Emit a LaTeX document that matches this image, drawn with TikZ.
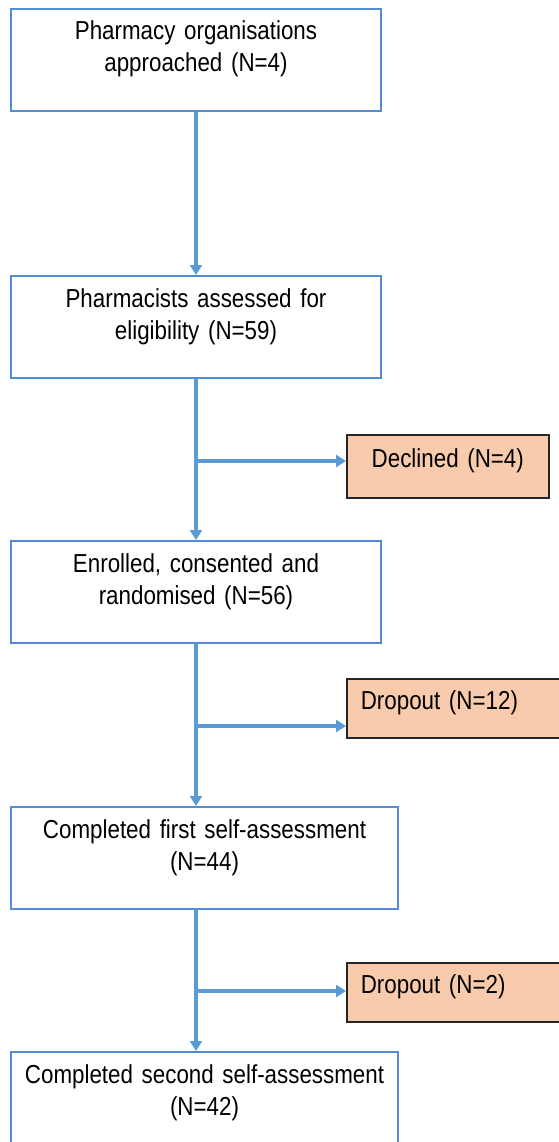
\documentclass[tikz,border=0pt]{standalone}
\usepackage{fontspec}
\setmainfont[FakeStretch=0.86]{Liberation Sans}
\usepackage{tikz}
\usetikzlibrary{arrows.meta,positioning}
\definecolor{boxblue}{RGB}{84,141,212}
\definecolor{flowblue}{RGB}{91,155,213}
\definecolor{exitfill}{RGB}{248,203,173}
\definecolor{exitline}{RGB}{38,38,38}

\begin{document}
\begin{tikzpicture}[
            x=1pt,
            y=-1pt,
            >={Triangle[width=12pt,length=10pt]},
            stage/.style={
                draw=boxblue,
                rectangle,
                line width=2pt,
                align=center,
                inner xsep=5pt,
                inner ysep=0pt,
                text width=360pt,
                text height=31pt,
                text depth=71pt,
                font=\fontsize{26}{32}\selectfont
            },
            widestage/.style={
                stage,
                text width=377pt
            },
            exitbox/.style={
                draw=exitline,
                fill=exitfill,
                rectangle,
                line width=1.6pt,
                align=center,
                inner xsep=14pt,
                inner ysep=0pt,
                text width=174pt,
                text height=33pt,
                text depth=30pt,
                font=\fontsize{26}{32}\selectfont
            },
            dropbox/.style={
                exitbox,
                align=left,
                text width=197pt,
                text height=31pt,
                text depth=28pt
            },
            flow/.style={
                ->,
                draw=flowblue,
                line width=3.8pt
            }
            ]

            \useasboundingbox (0,0) rectangle (558,1142);

            \node[stage, anchor=north west] (approach) at (10,8)
            {Pharmacy organisations\\
                approached (N=4)};

            \node[stage, below=163pt of approach] (eligible)
            {Pharmacists assessed for\\
                eligibility (N=59)};

            \node[stage, below=161pt of eligible] (enrolled)
            {Enrolled, consented and\\
                randomised (N=56)};

            \node[widestage, below=162pt of enrolled.south west, anchor=north west] (firstsa)
            {Completed first self-assessment\\
                (N=44)};

            \node[widestage, below=141pt of firstsa.south west, anchor=north west] (secondsa)
            {Completed second self-assessment\\
                (N=42)};

            \node[exitbox, anchor=north west] (declined) at (346,434)
            {Declined (N=4)};

            \node[dropbox, anchor=north west] (dropone) at (346,678)
            {Dropout (N=12)};

            \node[dropbox, anchor=north west] (droptwo) at (346,962)
            {Dropout (N=2)};

            \draw[flow] (approach.south) -- (eligible.north);
            \draw[flow] (eligible.south) -- (enrolled.north);
            \draw[flow] (enrolled.south) -- (enrolled.south |- firstsa.north);
            \draw[flow] (enrolled.south |- firstsa.south) -- (enrolled.south |- secondsa.north);

            \path (eligible.south) ++(0,82) coordinate (splitone);
            \path (enrolled.south) ++(0,82) coordinate (splittwo);
            \path (enrolled.south |- firstsa.south) ++(0,81) coordinate (splitthree);

            \draw[flow] (splitone) -- (splitone -| declined.west);
            \draw[flow] (splittwo) -- (splittwo -| dropone.west);
            \draw[flow] (splitthree) -- (splitthree -| droptwo.west);

        \end{tikzpicture}
\end{document}
